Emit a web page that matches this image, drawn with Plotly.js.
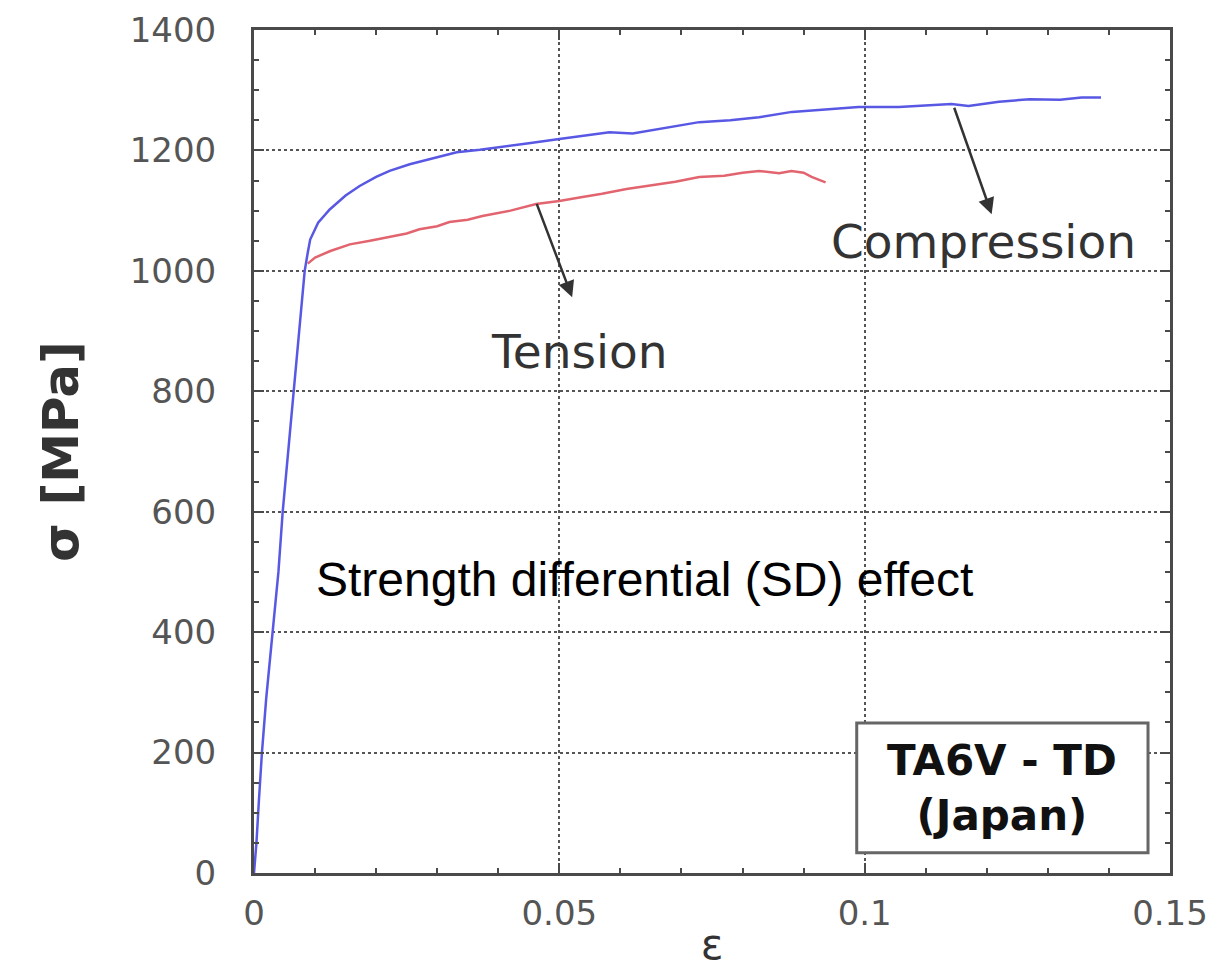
<!DOCTYPE html>
<html>
<head>
<meta charset="utf-8">
<script src="https://cdn.plot.ly/plotly-3.0.1.min.js"></script>
<style>html,body{margin:0;padding:0;background:#fff;}#chart{width:1217px;height:969px;}</style>
</head>
<body>
<div id="chart"></div>
<script>
// Compression curve (strain, stress in MPa)
const compressionStrain = [0, 0.0004, 0.0008, 0.0013, 0.002, 0.0031, 0.004, 0.0047, 0.0056, 0.0065, 0.0074, 0.0083, 0.0088, 0.0092, 0.0105, 0.0124, 0.0150, 0.0173, 0.0200, 0.0222, 0.0255, 0.0288, 0.0332, 0.0370, 0.0402, 0.0450, 0.0500, 0.0540, 0.0582, 0.0620, 0.0663, 0.0700, 0.0729, 0.0780, 0.0827, 0.0881, 0.0930, 0.0990, 0.1056, 0.1100, 0.1142, 0.1170, 0.1220, 0.1270, 0.1320, 0.1355, 0.1387];
const compressionStress = [0, 50, 120, 200, 290, 400, 500, 600, 700, 800, 900, 1000, 1030, 1052, 1080, 1102, 1125, 1141, 1156, 1166, 1177, 1186, 1197, 1201, 1205, 1212, 1219, 1224, 1230, 1228, 1235, 1242, 1247, 1250, 1255, 1264, 1268, 1272, 1272, 1274, 1277, 1274, 1281, 1285, 1284, 1288, 1288];

// Tension curve
const tensionStrain = [0.0088, 0.0100, 0.0125, 0.0157, 0.0190, 0.0222, 0.0250, 0.0271, 0.0300, 0.0320, 0.0350, 0.0374, 0.0420, 0.0462, 0.0500, 0.0533, 0.0570, 0.0610, 0.0650, 0.0690, 0.0729, 0.0770, 0.0800, 0.0827, 0.0860, 0.0880, 0.0900, 0.0913, 0.0936];
const tensionStress = [1012, 1022, 1033, 1044, 1050, 1056, 1062, 1069, 1074, 1081, 1085, 1091, 1100, 1111, 1116, 1122, 1128, 1136, 1142, 1148, 1156, 1158, 1163, 1166, 1162, 1166, 1163, 1156, 1147];

const xTickVals = [0, 0.05, 0.1, 0.15];
const xTickText = ["0", "0.05", "0.1", "0.15"];
const yTickVals = [0, 200, 400, 600, 800, 1000, 1200, 1400];
const yTickText = ["0", "200", "400", "600", "800", "1000", "1200", "1400"];

const axisColor = "#4a4a4a";
const tickFont = {family: "DejaVu Sans, sans-serif", size: 34, color: "#555555"};

const traces = [
  {x: tensionStrain, y: tensionStress, mode: "lines", name: "Tension",
   line: {color: "#e2646f", width: 2.5}},
  {x: compressionStrain, y: compressionStress, mode: "lines", name: "Compression",
   line: {color: "#5858e4", width: 2.5}}
];

const layout = {
  width: 1217, height: 969,
  margin: {l: 254, r: 47, t: 30, b: 96},
  paper_bgcolor: "#ffffff", plot_bgcolor: "#ffffff",
  showlegend: false,
  xaxis: {
    range: [0, 0.15], tickvals: xTickVals, ticktext: xTickText,
    showline: true, linecolor: axisColor, linewidth: 3, mirror: "allticks",
    ticks: "inside", ticklen: 10, tickwidth: 2, tickcolor: axisColor,
    showgrid: true, gridcolor: "#555555", gridwidth: 2, griddash: "dot",
    zeroline: false, tickfont: tickFont, ticklabelstandoff: 8,
    minor: {dtick: 0.01, ticks: "inside", ticklen: 5, tickwidth: 2, tickcolor: axisColor, showgrid: false},
    title: {text: "ε", font: {family: "DejaVu Sans, sans-serif", size: 42, color: "#333333"}, standoff: 6}
  },
  yaxis: {
    range: [0, 1400], tickvals: yTickVals, ticktext: yTickText,
    showline: true, linecolor: axisColor, linewidth: 3, mirror: "allticks",
    ticks: "inside", ticklen: 10, tickwidth: 2, tickcolor: axisColor,
    showgrid: true, gridcolor: "#555555", gridwidth: 2, griddash: "dot",
    zeroline: false, tickfont: tickFont, ticklabelstandoff: 28,
    minor: {dtick: 50, ticks: "inside", ticklen: 5, tickwidth: 2, tickcolor: axisColor, showgrid: false},
    title: {text: "<b>σ [MPa]</b>", font: {family: "DejaVu Sans, sans-serif", size: 50, color: "#333333"}, standoff: 36}
  },
  shapes: [
    {type: "rect", xref: "paper", yref: "paper", x0: 0.658, x1: 0.976, y0: 0.024, y1: 0.178,
     line: {color: "#666666", width: 3}, fillcolor: "#ffffff", layer: "above"}
  ],
  annotations: [
    {x: 0.1208, y: 1094, xref: "x", yref: "y", ax: -38, ay: -108, text: "", showarrow: true,
     arrowhead: 2, arrowsize: 1.3, arrowwidth: 2.5, arrowcolor: "#333333"},
    {x: 0.0521, y: 956, xref: "x", yref: "y", ax: -36, ay: -95, text: "", showarrow: true,
     arrowhead: 2, arrowsize: 1.3, arrowwidth: 2.5, arrowcolor: "#333333"},
    {x: 0.1194, y: 1049, xref: "x", yref: "y", text: "Compression", showarrow: false,
     font: {family: "DejaVu Sans, sans-serif", size: 47, color: "#333333"}},
    {x: 0.0533, y: 866, xref: "x", yref: "y", text: "Tension", showarrow: false,
     font: {family: "DejaVu Sans, sans-serif", size: 47, color: "#333333"}},
    {x: 0.0639, y: 487, xref: "x", yref: "y", text: "Strength differential (SD) effect", showarrow: false,
     font: {family: "Liberation Sans, Arial, sans-serif", size: 48, color: "#000000"}},
    {x: 0.817, y: 0.101, xref: "paper", yref: "paper", xanchor: "center", yanchor: "middle",
     text: "<b>TA6V - TD</b><br><b>(Japan)</b>", showarrow: false,
     font: {family: "DejaVu Sans, sans-serif", size: 42, color: "#111111"}}
  ]
};

Plotly.newPlot("chart", traces, layout, {displayModeBar: false, staticPlot: true});
</script>
</body>
</html>
